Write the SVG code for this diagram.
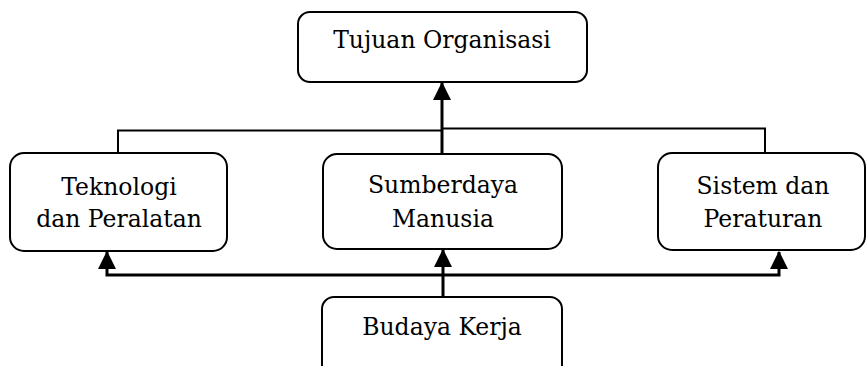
<svg xmlns="http://www.w3.org/2000/svg" width="867" height="366" viewBox="0 0 867 366">
<style>
.box{fill:#fff;stroke:#000;stroke-width:2}
.t{font-family:"DejaVu Serif","Liberation Serif",serif;font-size:23.5px;fill:#000;text-anchor:middle}
.thin{fill:none;stroke:#000;stroke-width:2}
.thick{fill:none;stroke:#000;stroke-width:3}
</style>
<defs>
<marker id="ah" markerUnits="userSpaceOnUse" markerWidth="18" markerHeight="18" viewBox="0 0 16 16" refX="15" refY="8" orient="auto-start-reverse">
<path d="M0,0 L16,8 L0,16 Z" fill="#000"/>
</marker>
</defs>
<g id="connectors">
<path class="thin" d="M118,153 V130.5 H442"/>
<path class="thin" d="M442,128.5 H765 V153"/>
<path class="thick" d="M442,153 V83" marker-end="url(#ah)"/>
<path class="thick" d="M443,297 V250" marker-end="url(#ah)"/>
<path class="thick" d="M107,252 V275 H779 V252" marker-start="url(#ah)" marker-end="url(#ah)"/>
</g>
<g id="tujuan">
<rect class="box" x="298" y="12" width="289" height="70" rx="12"/>
<text class="t" x="442" y="48">Tujuan Organisasi</text>
</g>
<g id="teknologi">
<rect class="box" x="10" y="153" width="217" height="98" rx="14"/>
<text class="t" x="119" y="195">Teknologi</text>
<text class="t" x="119" y="227">dan Peralatan</text>
</g>
<g id="sdm">
<rect class="box" x="323" y="154" width="239" height="95" rx="14"/>
<text class="t" x="443" y="193">Sumberdaya</text>
<text class="t" x="443" y="227">Manusia</text>
</g>
<g id="sistem">
<rect class="box" x="658" y="153" width="207" height="97" rx="14"/>
<text class="t" x="763" y="194">Sistem dan</text>
<text class="t" x="763" y="227">Peraturan</text>
</g>
<g id="budaya">
<rect class="box" x="322" y="297" width="240" height="85" rx="12"/>
<text class="t" x="442" y="335">Budaya Kerja</text>
</g>
</svg>
